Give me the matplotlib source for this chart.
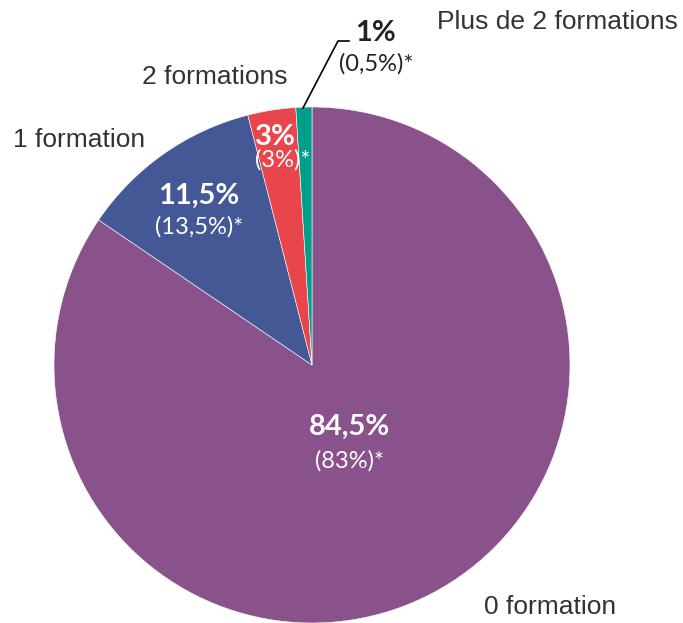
import matplotlib
matplotlib.use('Agg')
import matplotlib.pyplot as plt

# data
categories = ['0 formation', '1 formation', '2 formations', 'Plus de 2 formations']
shares = [84.5, 11.5, 3, 1]
share_labels = ['84,5%', '11,5%', '3%', '1%']
other_labels = ['(83%)*', '(13,5%)*', '(3%)*', '(0,5%)*']
colors = ['#8A528B', '#435895', '#E8464C', '#009E8B']

W, H = 683, 623

fig = plt.figure(figsize=(W / 100, H / 100), dpi=100)
ax = fig.add_axes([0, 0, 1, 1])

# pie drawn in pixel units, y measured from the bottom
ax.pie(shares, colors=colors, startangle=90, counterclock=False,
       center=(312, H - 365), radius=258,
       wedgeprops=dict(edgecolor='white', linewidth=0.4))
ax.set_xlim(0, W)
ax.set_ylim(0, H)
ax.set_aspect('equal')
ax.axis('off')

def px(x, y):
    return x, H - y

# category names
cat_font = dict(family='Liberation Sans', fontsize=19, color='#333333')
ax.text(*px(13, 140), categories[1], ha='left', va='center', **cat_font)
ax.text(*px(142, 77), categories[2], ha='left', va='center', **cat_font)
ax.text(*px(437, 22), categories[3], ha='left', va='center', **cat_font)
ax.text(*px(484, 607), categories[0], ha='left', va='center', **cat_font)

# value labels
big = dict(family='Lato', fontsize=21, fontweight='bold', ha='center', va='center')
small = dict(family='Lato', fontsize=17, ha='center', va='center')

ax.text(*px(350, 427), share_labels[0], color='white', **big)
ax.text(*px(349, 461), other_labels[0], color='white', **small)
ax.text(*px(199, 196), share_labels[1], color='white', **big)
ax.text(*px(199, 227), other_labels[1], color='white', **small)
ax.text(*px(275, 137), share_labels[2], color='white', **big)
ax.text(*px(283, 160), other_labels[2], color='white', **small)
ax.text(*px(376, 33), share_labels[3], color='#222222', **big)
ax.text(*px(376, 64), other_labels[3], color='#222222', **small)

# leader line for the small slice
lx, ly = zip(px(303, 108), px(338, 41), px(349, 41))
ax.plot(lx, ly, color='black', linewidth=1.2)

fig.savefig('out.png', dpi=100)
